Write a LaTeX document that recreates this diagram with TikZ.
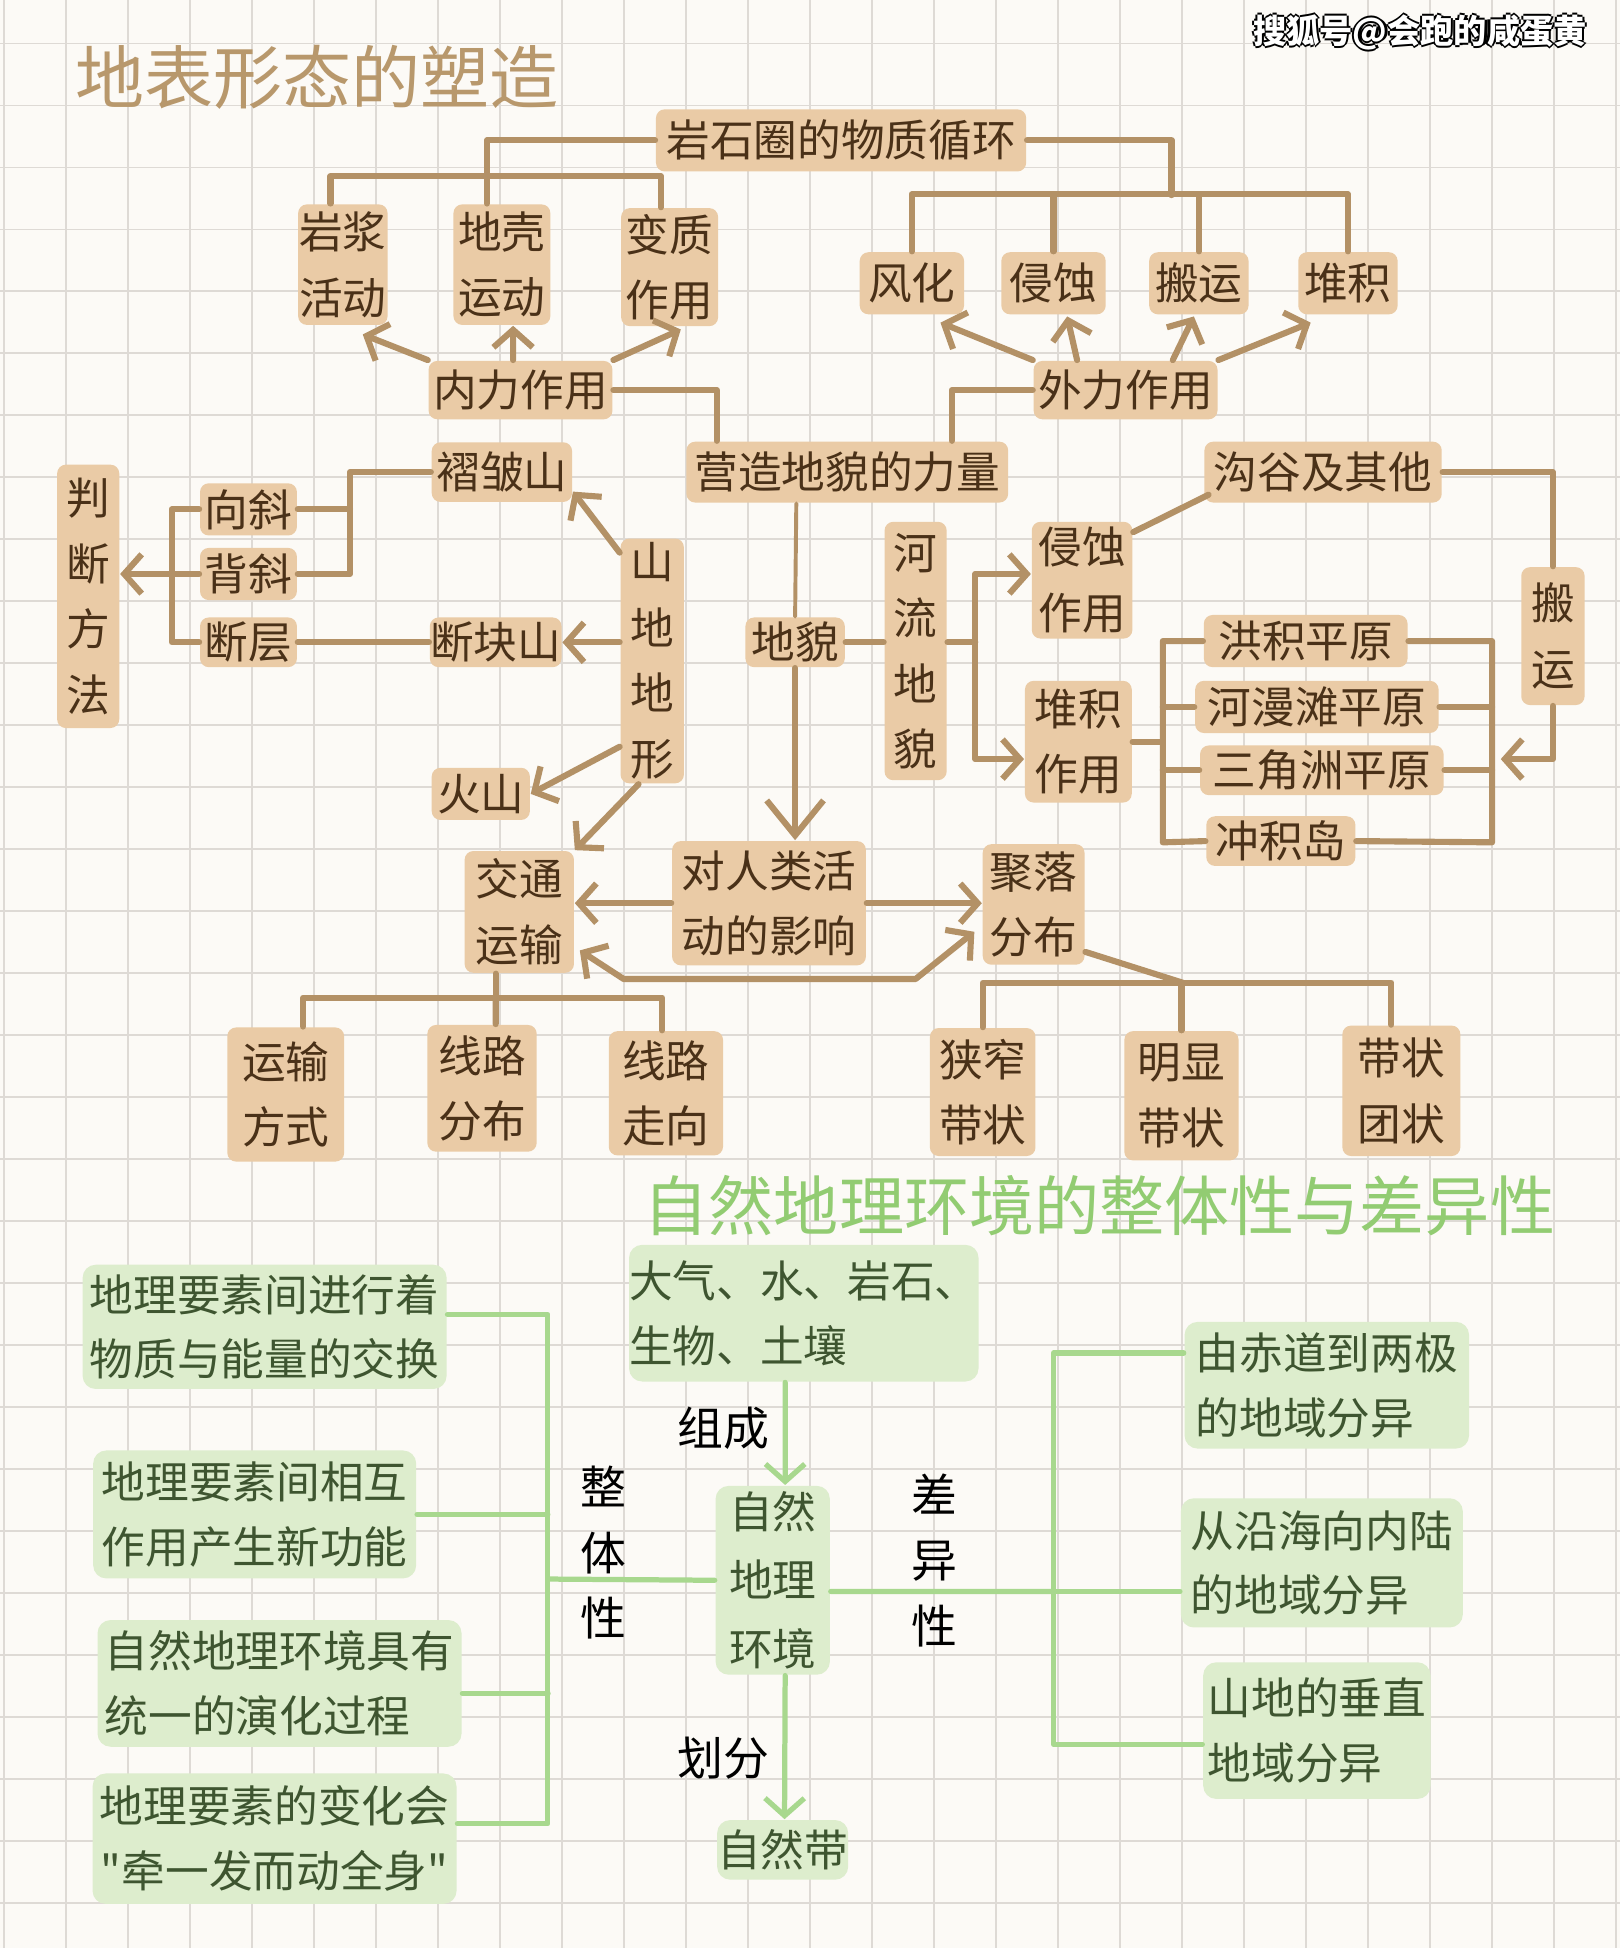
\documentclass[tikz,border=0pt]{standalone}
\usepackage{fontspec}
\setmainfont{Noto Sans CJK SC}
\newfontfamily\cjkplain{Noto Sans CJK SC}
\usetikzlibrary{arrows.meta}
\definecolor{paperbg}{HTML}{FCFAF6}
\definecolor{gridgray}{HTML}{DEDAD5}
\definecolor{tanfill}{HTML}{EACBA6}
\definecolor{tanrule}{HTML}{B39166}
\definecolor{tanink}{HTML}{4A3118}
\definecolor{tantitle}{HTML}{B8986C}
\definecolor{greenfill}{HTML}{DDEDCD}
\definecolor{greenrule}{HTML}{A8D88E}
\definecolor{greenink}{HTML}{3E5530}
\definecolor{greentitle}{HTML}{92CC72}
\newcommand{\wmark}[1]{\leavevmode
  \rlap{\color{black}\kern-0.5pt#1}\rlap{\color{black}\kern0.5pt#1}%
  \rlap{\color{black}\raisebox{0.5pt}{#1}}\rlap{\color{black}\raisebox{-0.5pt}{#1}}%
  {\color{white}#1}}

\begin{document}
\begin{tikzpicture}[x=0.01cm,y=-0.01cm,
  tanbox/.style={fill=tanfill,text=tanink,rounded corners=2pt,inner sep=0pt,align=center,font=\fontsize{10}{15}\selectfont},
  greenbox/.style={fill=greenfill,text=greenink,rounded corners=3pt,inner sep=0pt,align=center,font=\fontsize{10}{14.8}\selectfont},
  sz/.style 2 args={minimum width=#1*0.01cm,minimum height=#2*0.01cm},
  tanlink/.style={draw=tanrule,line width=1.4pt,line cap=round,line join=round},
  tanthin/.style={draw=tanrule,line width=0.9pt,line cap=round},
  tanarr/.style={tanlink,-{Straight Barb[length=4pt,width=9pt]}},
  tandbl/.style={tanlink,{Straight Barb[length=4pt,width=9pt]}-{Straight Barb[length=4pt,width=9pt]}},
  greenlink/.style={draw=greenrule,line width=1.2pt,line cap=round,line join=round},
  greenarr/.style={greenlink,-{Straight Barb[length=4pt,width=9pt]}},
  tag/.style={text=black,align=center,font=\fontsize{10.5}{15}\selectfont}]
\useasboundingbox (0,0) rectangle (1304,1568);
\fill[paperbg] (0,0) rectangle (1304,1568);
% grid paper
\foreach \i in {0,...,26} {
  \draw[gridgray,line width=0.45pt] (3+\i*49.9,0) -- (3+\i*49.9,1568);
}
\foreach \j in {0,...,30} {
  \draw[gridgray,line width=0.45pt] (0,35+\j*49.9) -- (1304,35+\j*49.9);
}

% titles and mark
\node (ttlA) [text=tantitle,font=\fontsize{15.8}{18}\selectfont] at (255,62) {地表形态的塑造};
\node (ttlB) [text=greentitle,font=\fontsize{14.9}{18}\selectfont] at (885,970) {自然地理环境的整体性与差异性};
\node (mark) [font=\fontsize{7.6}{9}\selectfont\bfseries] at (1143,26) {\wmark{搜狐号@会跑的咸蛋黄}};

% forces
\node (yanshi)   [tanbox,sz={298}{50}] at (677,113) {岩石圈的物质循环};
\node (yanjiang) [tanbox,sz={72}{97}]  at (276,213) {岩浆\\活动};
\node (diqiao)   [tanbox,sz={78}{97}]  at (404,213) {地壳\\运动};
\node (bianzhi)  [tanbox,sz={78}{95}]  at (539,215) {变质\\作用};
\node (fenghua)  [tanbox,sz={84}{50}]  at (734,228) {风化};
\node (qinshi)   [tanbox,sz={84}{50}]  at (848,228) {侵蚀};
\node (banyun)   [tanbox,sz={80}{50}]  at (965,228) {搬运};
\node (duiji)    [tanbox,sz={80}{50}]  at (1085,228) {堆积};
\node (neili)    [tanbox,sz={148}{47}] at (419,314) {内力作用};
\node (waili)    [tanbox,sz={148}{47}] at (906,314) {外力作用};
\node (yingzao)  [tanbox,sz={259}{49}] at (682,380) {营造地貌的力量};

% landforms
\node (zhoubo)   [tanbox,sz={113}{48}] at (404,380) {褶皱山};
\node (gougu)    [tanbox,sz={191}{49}] at (1065,380) {沟谷及其他};
\node (panduan)  [tanbox,sz={50}{212}] at (71,480) {判\\断\\方\\法};
\node (xiangxie) [tanbox,sz={78}{42}]  at (200,410) {向斜};
\node (beixie)   [tanbox,sz={78}{42}]  at (200,462) {背斜};
\node (duanceng) [tanbox,sz={78}{40}]  at (200,517) {断层};
\node (duankuai) [tanbox,sz={106}{40}] at (399,517) {断块山};
\node (shandi)   [tanbox,sz={51}{197}] at (525,532) {山\\地\\地\\形};
\node (huoshan)  [tanbox,sz={79}{42}]  at (387,639) {火山};
\node (dimao)    [tanbox,sz={80}{40}]  at (640,517) {地貌};
\node (heliu)    [tanbox,sz={50}{208}] at (737,524) {河\\流\\地\\貌};
\node (qinshizy) [tanbox,sz={81}{94}]  at (871,467) {侵蚀\\作用};
\node (duijizy)  [tanbox,sz={86}{98}]  at (868,597) {堆积\\作用};
\node (banyun2)  [tanbox,sz={51}{111}] at (1250,512) {搬\\运};
\node (hongji)   [tanbox,sz={164}{42}] at (1051,516) {洪积平原};
\node (heman)    [tanbox,sz={196}{42}] at (1060,569) {河漫滩平原};
\node (sanjiao)  [tanbox,sz={196}{40}] at (1064,620) {三角洲平原};
\node (chongji)  [tanbox,sz={120}{40}] at (1031,677) {冲积岛};

% human activity
\node (jiaotong)  [tanbox,sz={88}{98}]  at (418,734) {交通\\运输};
\node (duirenlei) [tanbox,sz={156}{100}] at (619,727) {对人类活\\动的影响};
\node (juluo)     [tanbox,sz={82}{97}]  at (832,728) {聚落\\分布};
\node (yunshu)    [tanbox,sz={94}{108}] at (230,881) {运输\\方式};
\node (xianlufb)  [tanbox,sz={88}{102}] at (388,876) {线路\\分布};
\node (xianluzx)  [tanbox,sz={92}{100}] at (536,880) {线路\\走向};
\node (xiazhai)   [tanbox,sz={85}{103}] at (791,879) {狭窄\\带状};
\node (mingxian)  [tanbox,sz={92}{104}] at (951,882) {明显\\带状};
\node (daizhuang) [tanbox,sz={95}{105}] at (1128,878) {带状\\团状};

% top connectors
\draw[tanlink] ([xshift=-0.1cm]yanjiang.north) -- ++(0,-22) -| ([xshift=-0.07cm]bianzhi.north);
\draw[tanlink] (yanshi.west) -| ([xshift=-0.12cm]diqiao.north);
\coordinate (busR) at (943,157);
\draw[tanlink] (yanshi.east) -| (busR);
\draw[tanlink] (fenghua.north) -- ++(0,-46) -| (duiji.north);
\draw[tanlink] (qinshi.north) -- ++(0,-46);
\draw[tanlink] (banyun.north) -- ++(0,-46);
\draw[tanarr] (neili.north west) -- ([shift={(16,7)}]yanjiang.south);
\draw[tanarr] ([xshift=-0.06cm]neili.north) -- ([xshift=0.09cm]diqiao.south);
\draw[tanarr] (neili.north east) -- ([shift={(9,2)}]bianzhi.south);
\draw[tanarr] (waili.north west) -- ([shift={(23,6)}]fenghua.south);
\draw[tanarr] ([xshift=-0.39cm]waili.north) -- ([shift={(11,1)}]qinshi.south);
\draw[tanarr] ([xshift=0.38cm]waili.north) -- ([shift={(-4,1)}]banyun.south);
\draw[tanarr] (waili.north east) -- ([shift={(-30,6)}]duiji.south);
\draw[tanlink] (neili.east) -| ([xshift=0.25cm]yingzao.north west);
\draw[tanlink] (waili.west) -| ([xshift=-0.46cm]yingzao.north east);

% mountain connectors
\draw[tanlink] (xiangxie.east) -- ++(42,0);
\draw[tanlink] (zhoubo.west) -| ([xshift=0.42cm]beixie.east) -- (beixie.east);
\draw[tanlink] (xiangxie.west) -- ++(-22,0) |- (duanceng.west);
\draw[tanarr] (beixie.west) -- (panduan.east |- beixie.west);
\draw[tanlink] (duanceng.east) -- (duankuai.west);
\draw[tanarr] ([yshift=-0.12cm]shandi.north west) -- ([yshift=0.09cm]zhoubo.south east);
\draw[tanarr] (shandi.west |- duankuai.east) -- (duankuai.east);
\draw[tanarr] ([yshift=-0.69cm]shandi.west) -- (huoshan.east);
\draw[tanarr] ([xshift=-0.11cm]shandi.south) -- (jiaotong.north east);

% river connectors
\draw[tanthin] ([xshift=-0.41cm]yingzao.south) -- (dimao.north);
\draw[tanlink,-{Straight Barb[length=8pt,width=13pt]}] (dimao.south) -- (dimao.south |- duirenlei.north);
\draw[tanlink] (dimao.east) -- (dimao.east -| heliu.west);
\coordinate (hsplit) at (785,517);
\draw[tanlink] (heliu.east |- hsplit) -- (hsplit);
\draw[tanarr] (hsplit) |- ([yshift=0.05cm]qinshizy.west);
\draw[tanarr] (hsplit) |- ([yshift=-0.14cm]duijizy.west);
\draw[tanlink] ([yshift=-0.09cm]qinshizy.north east) -- ([shift={(4,-7)}]gougu.south west);
\draw[tanlink] (gougu.east) -| (banyun2.north);
\coordinate (lbTop) at (936,516);
\coordinate (lbBot) at (936,678);
\coordinate (rbTop) at (1201,516);
\coordinate (rbBot) at (1201,678);
\coordinate (rbIn) at (1208,611);
\draw[tanlink] (hongji.west) -- (lbTop) -- (lbBot) -- (chongji.west);
\draw[tanlink] (heman.west) -- (heman.west -| lbTop);
\draw[tanlink] (sanjiao.west) -- (sanjiao.west -| lbTop);
\draw[tanlink] (duijizy.east) -- (duijizy.east -| lbTop);
\draw[tanlink] (hongji.east) -- (rbTop) -- (rbBot) -- (chongji.east);
\draw[tanlink] (heman.east) -- (heman.east -| rbTop);
\draw[tanlink] (sanjiao.east) -- (sanjiao.east -| rbTop);
\draw[tanarr] (banyun2.south) |- (rbIn);

% human activity connectors
\draw[tanarr] (duirenlei.west) -- (jiaotong.east |- duirenlei.west);
\draw[tanarr] (duirenlei.east) -- (juluo.west |- duirenlei.east);
\draw[tandbl] ([shift={(4,31)}]jiaotong.east) -- (502,788) -- (737,788) -- ([shift={(-6,22)}]juluo.west);
\coordinate (tbus) at (399,803);
\draw[tanlink] (jiaotong.south -| tbus) -- (tbus);
\draw[tanlink] ([xshift=0.14cm]yunshu.north) |- (tbus) -| ([xshift=-0.03cm]xianluzx.north);
\draw[tanlink] ([xshift=0.11cm]xianlufb.north) -- (tbus);
\coordinate (jbus) at (952,791);
\draw[tanlink] ([yshift=0.11cm]juluo.south east) -- (jbus);
\draw[tanlink] (xiazhai.north) |- (jbus) -| ([xshift=-0.08cm]daizhuang.north);
\draw[tanlink] (mingxian.north) -- (mingxian.north |- jbus);

% whole and parts
\node (zucheng)  [greenbox,sz={272}{110},align=left] at (647,1057) {大气、水、岩石、\\生物、土壤};
\node (gA) [greenbox,sz={293}{100}] at (213,1068) {地理要素间进行着\\物质与能量的交换};
\node (gB) [greenbox,sz={260}{103}] at (205,1219) {地理要素间相互\\作用产生新功能};
\node (gC) [greenbox,sz={293}{102},align=left] at (225,1355) {自然地理环境具有\\统一的演化过程};
\node (gD) [greenbox,sz={293}{105}] at (221,1480) {地理要素的变化会\\{\cjkplain"}牵一发而动全身{\cjkplain"}};
\node (ziran) [greenbox,sz={92}{152},font=\fontsize{10}{15.6}\selectfont] at (622,1272) {自然\\地理\\环境};
\node (zirandai) [greenbox,sz={105}{48}] at (630,1489) {自然带};
\node (rA) [greenbox,sz={229}{102},align=left] at (1068,1115) {由赤道到两极\\的地域分异};
\node (rB) [greenbox,sz={227}{104},align=left] at (1064,1258) {从沿海向内陆\\的地域分异};
\node (rC) [greenbox,sz={183}{110},align=left] at (1060,1393) {山地的垂直\\地域分异};
\node (ztx) [tag] at (486,1250) {整\\体\\性};
\node (cyx) [tag] at (752,1256) {差\\异\\性};
\node (zc)  [tag] at (582,1150) {组成};
\node (hf)  [tag] at (582,1415) {划分};

\coordinate (wx) at (441,1271);
\draw[greenlink] ([yshift=0.1cm]gA.east) -| (wx) |- ([yshift=0.12cm]gD.east);
\draw[greenlink] (gB.east) -- (gB.east -| wx);
\draw[greenlink] ([yshift=-0.08cm]gC.east) -- ++(69,0);
\draw[greenlink] (wx) -- (ziran.west);
\draw[greenarr] ([xshift=-0.15cm]zucheng.south) -- ([xshift=0.1cm]ziran.north);
\draw[greenarr] ([xshift=0.1cm]ziran.south) -- ([xshift=0.015cm]zirandai.north);
\coordinate (dx) at (848,1281);
\draw[greenlink] ([yshift=-0.09cm]ziran.east) -- (dx);
\draw[greenlink] ([yshift=0.26cm]rA.west) -| (dx) |- ([yshift=-0.11cm]rC.west);
\draw[greenlink] (dx) -- (dx -| rB.west);
\end{tikzpicture}
\end{document}
